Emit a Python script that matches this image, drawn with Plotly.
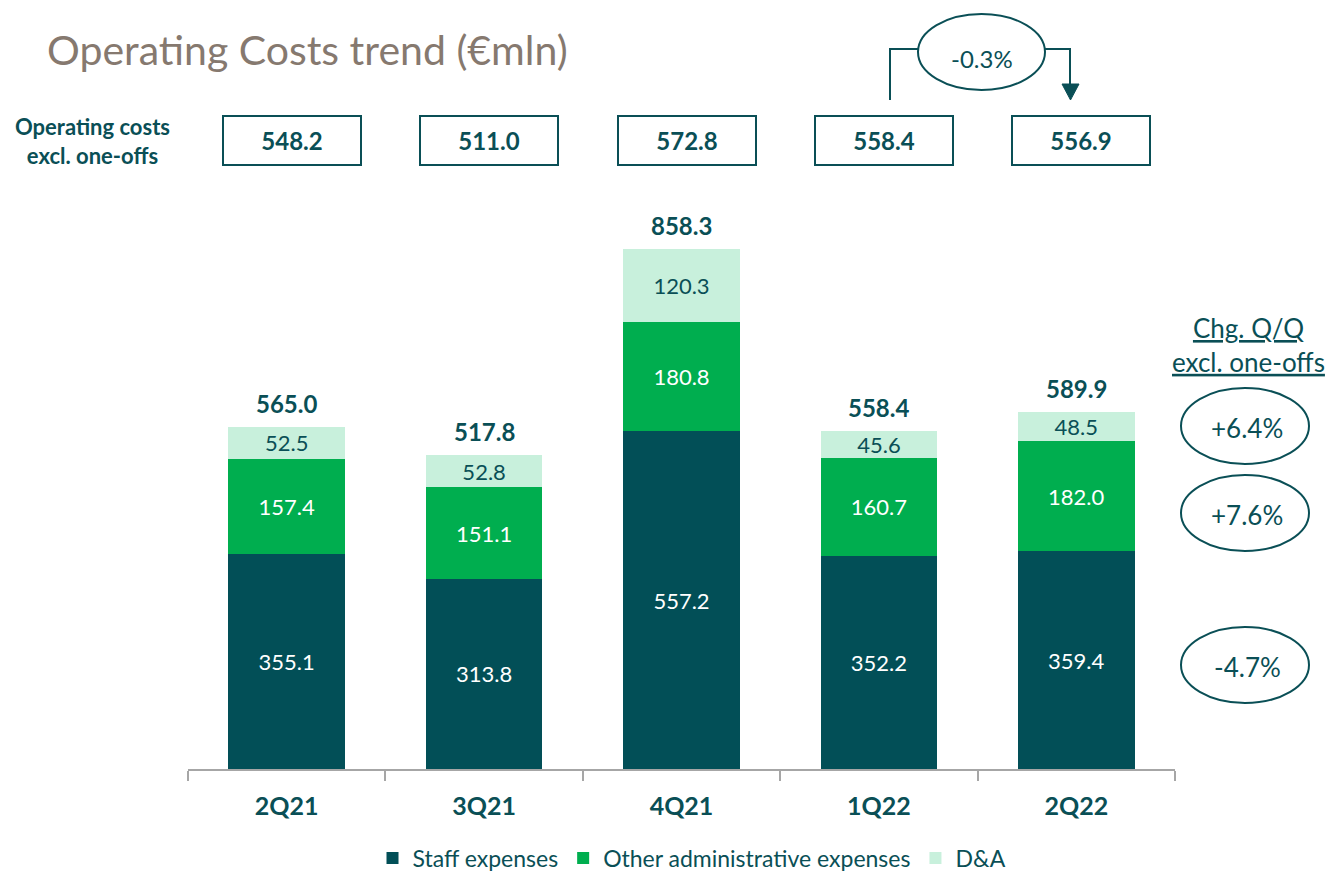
import plotly.graph_objects as go

quarters = ["2Q21", "3Q21", "4Q21", "1Q22", "2Q22"]
staff = [355.1, 313.8, 557.2, 352.2, 359.4]
other_admin = [157.4, 151.1, 180.8, 160.7, 182.0]
da = [52.5, 52.8, 120.3, 45.6, 48.5]
totals = [565.0, 517.8, 858.3, 558.4, 589.9]
excl_one_offs = [548.2, 511.0, 572.8, 558.4, 556.9]
qoq_labels = ["+6.4%", "+7.6%", "-4.7%"]
yoy_change = "-0.3%"

TEAL = "#0A4F56"
C_STAFF = "#024F57"
C_OTHER = "#00AE4F"
C_DA = "#C8F0DC"
FONT = "Lato"

# page offset (default body margin) and figure size
OFF = 8
FIG_W, FIG_H = 1336 - OFF, 871 - OFF
# plot area in screenshot pixels
L, R, T, B = 188, 1175, 180, 769
W, H = R - L, B - T


def px(x):
    return (x - L) / W


def py(y):
    return (B - y) / H


fig = go.Figure()
fig.add_bar(x=quarters, y=staff, name="Staff expenses", marker_color=C_STAFF,
            text=[f"{v:.1f}" for v in staff], textfont=dict(color="white", size=22, family=FONT))
fig.add_bar(x=quarters, y=other_admin, name="Other administrative expenses", marker_color=C_OTHER,
            text=[f"{v:.1f}" for v in other_admin], textfont=dict(color="white", size=22, family=FONT))
fig.add_bar(x=quarters, y=da, name="D&A", marker_color=C_DA,
            text=[f"{v:.1f}" for v in da], textfont=dict(color=TEAL, size=22, family=FONT))
fig.update_traces(textposition="inside", insidetextanchor="middle", constraintext="none",
                  marker_line_width=0, hoverinfo="skip")

annotations = []
# totals above bars
for q, t in zip(quarters, totals):
    annotations.append(dict(x=q, y=t, xref="x", yref="y", text=f"<b>{t:.1f}</b>",
                            showarrow=False, xanchor="center", yanchor="bottom", yshift=7,
                            font=dict(size=24, color=TEAL, family=FONT)))
# boxes with excl. one-offs
for q, v in zip(quarters, excl_one_offs):
    annotations.append(dict(x=q, y=py(140), xref="x", yref="paper", text=f"<b>{v:.1f}</b>",
                            showarrow=False, xshift=5, width=136, height=47,
                            xanchor="center", yanchor="middle",
                            bordercolor=TEAL, borderwidth=2, borderpad=0,
                            font=dict(size=24, color=TEAL, family=FONT)))
annotations.append(dict(x=px(92), y=py(141), xref="paper", yref="paper",
                        text="<b>Operating costs<br>excl. one-offs</b>", showarrow=False,
                        xanchor="center", yanchor="middle",
                        align="center", font=dict(size=22, color=TEAL, family=FONT)))
# title
annotations.append(dict(x=px(45), y=py(50), xref="paper", yref="paper",
                        xanchor="left", yanchor="middle",
                        text="Operating Costs trend (€mln)", showarrow=False,
                        font=dict(size=41, color="#86796F", family=FONT)))
# -0.3% bubble
annotations.append(dict(x=px(982), y=py(58), xref="paper", yref="paper", text=yoy_change,
                        xanchor="center", yanchor="middle",
                        showarrow=False, font=dict(size=24, color=TEAL, family=FONT)))
# right side header
annotations.append(dict(x=px(1248), y=py(345), xref="paper", yref="paper",
                        text="<u>Chg. Q/Q</u><br><u>excl. one-offs</u>", showarrow=False,
                        xanchor="center", yanchor="middle",
                        align="center", font=dict(size=26, color=TEAL, family=FONT)))
oval_centers = [426, 513, 665]
for lab, cy in zip(qoq_labels, oval_centers):
    annotations.append(dict(x=px(1247), y=py(cy + 2), xref="paper", yref="paper", text=lab,
                            xanchor="center", yanchor="middle",
                            showarrow=False, font=dict(size=26, color=TEAL, family=FONT)))

shapes = []
line = dict(color=TEAL, width=2)
# ellipses
shapes.append(dict(type="circle", xref="paper", yref="paper", x0=px(918), x1=px(1045),
                   y0=py(90), y1=py(14), line=line))
for cy in oval_centers:
    shapes.append(dict(type="circle", xref="paper", yref="paper", x0=px(1181), x1=px(1309),
                       y0=py(cy + 38), y1=py(cy - 38), line=line))
# connector
shapes.append(dict(type="path", xref="paper", yref="paper", line=line,
                   path=f"M {px(890)} {py(100)} L {px(890)} {py(49)} L {px(919)} {py(49)}"))
shapes.append(dict(type="path", xref="paper", yref="paper", line=line,
                   path=f"M {px(1044)} {py(49)} L {px(1070)} {py(49)} L {px(1070)} {py(86)}"))
shapes.append(dict(type="path", xref="paper", yref="paper", line=dict(color=TEAL, width=1),
                   fillcolor=TEAL,
                   path=f"M {px(1062)} {py(84)} L {px(1079)} {py(84)} L {px(1070.5)} {py(100)} Z"))

fig.update_layout(
    barmode="stack",
    bargap=0.41,
    width=FIG_W, height=FIG_H,
    margin=dict(l=L - OFF, r=FIG_W - (R - OFF), t=T - OFF, b=FIG_H - (B - OFF), pad=0,
                autoexpand=False),
    paper_bgcolor="white", plot_bgcolor="white",
    font=dict(family=FONT, color=TEAL),
    uniformtext=dict(mode="show", minsize=22),
    showlegend=True,
    legend=dict(orientation="h", x=px(692), xanchor="center",
                yref="container", y=(FIG_H - (858 - OFF)) / FIG_H, yanchor="middle",
                font=dict(size=23, color=TEAL, family=FONT), traceorder="normal",
                tracegroupgap=0),
    annotations=annotations,
    shapes=shapes,
)
fig.update_xaxes(showline=True, linecolor="#A6A6A6", linewidth=1.5, ticks="outside",
                 tickson="boundaries", ticklen=10, tickcolor="#A6A6A6", tickwidth=1.5,
                 tickfont=dict(size=25, color=TEAL, family=FONT), ticklabelstandoff=14,
                 tickprefix="<b>", ticksuffix="</b>", showgrid=False, range=[-0.5, 4.5],
                 automargin=False)
fig.update_yaxes(visible=False, range=[0, H / (520 / 858.3)])

fig.write_html("out.html")
